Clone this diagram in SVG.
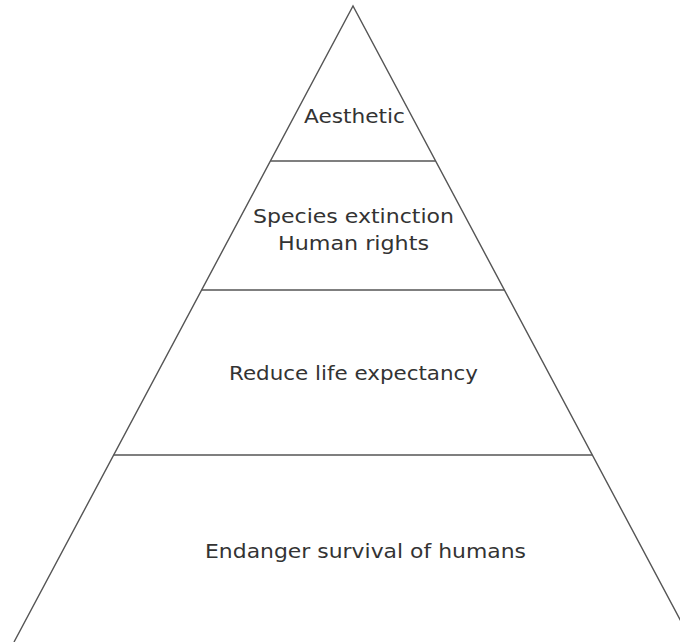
<svg xmlns="http://www.w3.org/2000/svg" width="680" height="642" viewBox="0 0 680 642">
  <style>
    .edge { stroke: #555; stroke-width: 1.4; fill: none; }
    .label { font-family: "DejaVu Sans", "Noto Sans", sans-serif; font-size: 19.5px; fill: #333; text-anchor: middle; }
  </style>
  <rect width="680" height="642" fill="#fff"/>
  <g id="connectors">
    <path class="edge" d="M14,642 L353,6 L692,642"/>
    <line class="edge" x1="270.4" y1="161" x2="435.6" y2="161"/>
    <line class="edge" x1="201.6" y1="290" x2="504.4" y2="290"/>
    <line class="edge" x1="113.7" y1="455" x2="592.3" y2="455"/>
  </g>
  <g id="level-aesthetic">
    <text class="label" x="354.5" y="123" textLength="101" lengthAdjust="spacingAndGlyphs">Aesthetic</text>
  </g>
  <g id="level-species">
    <text class="label" x="353.5" y="223" textLength="201" lengthAdjust="spacingAndGlyphs">Species extinction</text>
    <text class="label" x="353.5" y="250" textLength="151" lengthAdjust="spacingAndGlyphs">Human rights</text>
  </g>
  <g id="level-life">
    <text class="label" x="353.5" y="380" textLength="249" lengthAdjust="spacingAndGlyphs">Reduce life expectancy</text>
  </g>
  <g id="level-survival">
    <text class="label" x="365.5" y="558" textLength="321" lengthAdjust="spacingAndGlyphs">Endanger survival of humans</text>
  </g>
</svg>
